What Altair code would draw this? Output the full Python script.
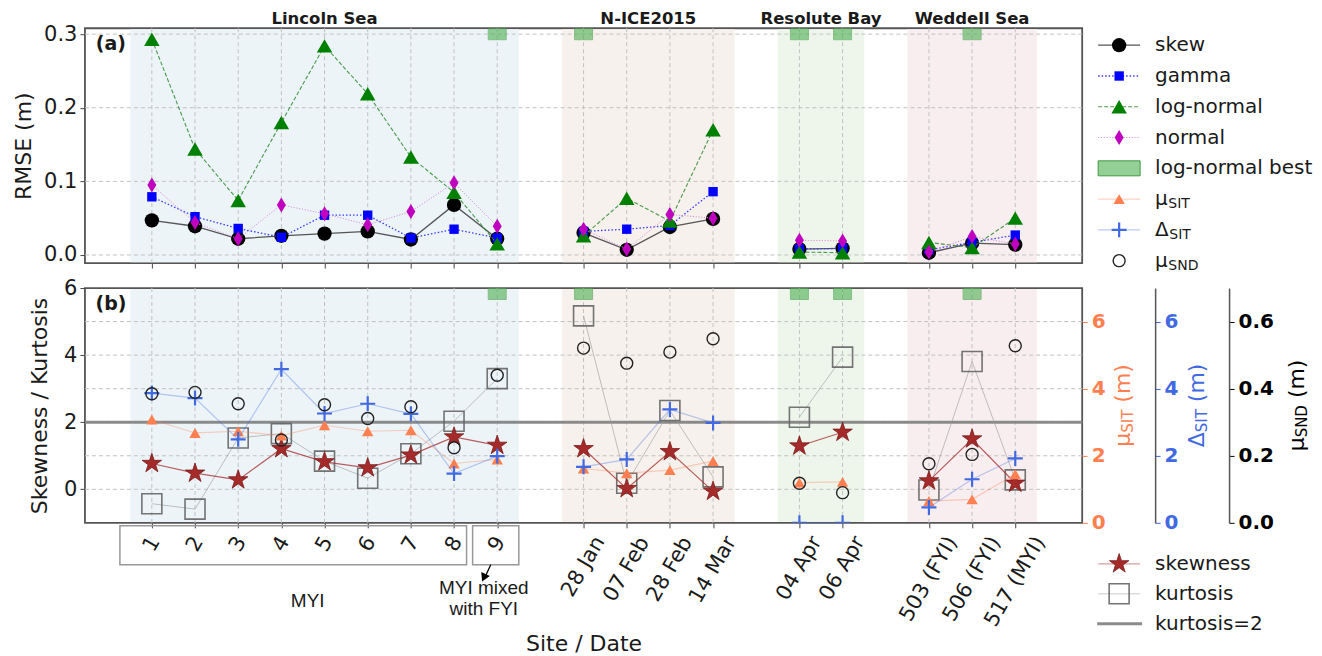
import math

import altair as alt
import pandas as pd

# ---- values --------------------------------------------------------------
site_labels = ["1", "2", "3", "4", "5", "6", "7", "8", "9",
               "28 Jan", "07 Feb", "28 Feb", "14 Mar",
               "04 Apr", "06 Apr",
               "503 (FYI)", "506 (FYI)", "517 (MYI)"]
site_pos = [0, 1, 2, 3, 4, 5, 6, 7, 8, 10, 11, 12, 13, 15, 16, 18, 19, 20]
site_region = (["Lincoln Sea"] * 9 + ["N-ICE2015"] * 4
               + ["Resolute Bay"] * 2 + ["Weddell Sea"] * 3)

regions = ["Lincoln Sea", "N-ICE2015", "Resolute Bay", "Weddell Sea"]
region_start = [-0.5, 9.5, 14.5, 17.5]
region_end = [8.5, 13.5, 16.5, 20.5]

# (a) RMSE of the fitted distributions (m)
rmse_skew = [0.047, 0.039, 0.022, 0.026, 0.029, 0.032, 0.021, 0.068, 0.022,
             0.030, 0.007, 0.038, 0.049, 0.008, 0.009, 0.003, 0.016, 0.014]
rmse_gamma = [0.079, 0.052, 0.036, 0.024, 0.054, 0.054, 0.023, 0.035, 0.023,
              0.032, 0.035, 0.040, 0.086, 0.008, 0.009, 0.007, 0.017, 0.027]
rmse_lognormal = [0.293, 0.144, 0.074, 0.180, 0.284, 0.219, 0.133, 0.085, 0.015,
                  0.026, 0.077, 0.046, 0.170, 0.004, 0.003, 0.017, 0.010, 0.050]
rmse_normal = [0.095, 0.044, 0.022, 0.068, 0.056, 0.041, 0.059, 0.098, 0.039,
               0.035, 0.008, 0.055, 0.050, 0.020, 0.019, 0.004, 0.025, 0.015]
lognormal_best = ["9", "28 Jan", "04 Apr", "06 Apr", "506 (FYI)"]

# (b) skewness / kurtosis and site means
skewness = [0.77, 0.48, 0.28, 1.21, 0.82, 0.64, 1.02, 1.56, 1.31,
            1.21, 0.02, 1.12, -0.06, 1.29, 1.70, 0.25, 1.50, 0.18]
kurtosis = [-0.43, -0.59, 1.53, 1.66, 0.84, 0.33, 1.06, 2.03, 3.30,
            5.17, 0.18, 2.35, 0.37, 2.15, 3.94, -0.02, 3.81, 0.28]
kurtosis_ref = [2.0]
mu_sit = [3.08, 2.68, 2.73, 2.60, 2.91, 2.73, 2.76, 1.77, 1.89,
          1.62, 1.48, 1.57, 1.84, 1.20, 1.22, 0.65, 0.70, 1.45]
delta_sit = [3.87, 3.72, 2.49, 4.58, 3.26, 3.55, 3.25, 1.47, 1.99,
             1.67, 1.89, 3.38, 2.98, 0.00, 0.00, 0.46, 1.30, 1.92]
mu_snd = [0.385, 0.389, 0.355, 0.247, 0.352, 0.311, 0.346, 0.224, 0.440,
          0.521, 0.476, 0.509, 0.549, 0.118, 0.090, 0.176, 0.204, 0.528]

rmse_ticks = [0.0, 0.1, 0.2, 0.3]
shape_ticks = [0, 2, 4, 6]
shape_grid = [0, 1, 2, 3, 4, 5]
sit_ticks = [0, 2, 4, 6]
snd_ticks = [0.0, 0.2, 0.4, 0.6]

# ---- styling ---------------------------------------------------------------
FONT = "DejaVu Sans"
INK = "#1a1a1a"
GRID = "#c2c2c2"
FRAME = "#555555"
CORAL = "#ff7f50"
ROYAL = "#4169e1"
BROWN = "#a52a2a"
SPAN_FILL = {"Lincoln Sea": "#ecf4f8", "N-ICE2015": "#f6f1ec",
             "Resolute Bay": "#eef6ec", "Weddell Sea": "#f8eef0"}
W, H = 998, 235

# DejaVu Sans advance widths (em), used to lay out rotated/subscripted text
CHAR_W = {" ": 0.318, "(": 0.390, ")": 0.390, "A": 0.684, "D": 0.770,
          "F": 0.575, "I": 0.295, "J": 0.295, "M": 0.863, "N": 0.748,
          "S": 0.635, "T": 0.611, "Y": 0.611, "a": 0.613, "b": 0.635,
          "e": 0.615, "m": 0.974, "n": 0.634, "p": 0.635, "r": 0.411,
          "μ": 0.636, "Δ": 0.684}
for d in "0123456789":
    CHAR_W[d] = 0.636


def text_width(s, size):
    return sum(CHAR_W[c] for c in s) * size


def star_path(inner=0.382):
    pts = []
    for k in range(10):
        r = 1.0 if k % 2 == 0 else inner
        a = math.radians(-90 + 36 * k)
        pts.append(f"{r * math.cos(a):.3f},{r * math.sin(a):.3f}")
    return "M" + "L".join(pts) + "Z"


STAR = star_path()
THIN_DIAMOND = "M0,-1L0.6,0L0,1L-0.6,0Z"
PLUS = "M-1,0L1,0M0,-1L0,1"


def label_drop(s, size=21):
    # matplotlib centres a 60-degree label under its tick with the bbox top fixed
    return 245 + (text_width(s, size) * math.sin(math.radians(60)) + 11) / 2


df = pd.DataFrame({
    "site": site_labels, "pos": site_pos, "region": site_region,
    "skew": rmse_skew, "gamma": rmse_gamma, "lognormal": rmse_lognormal,
    "normal": rmse_normal, "skewness": skewness, "kurtosis": kurtosis,
    "mu_sit": mu_sit, "delta_sit": delta_sit, "mu_snd": mu_snd,
})
df["ly"] = [label_drop(s) for s in site_labels]
best_df = df[df["site"].isin(lognormal_best)]
span_df = pd.DataFrame({"region": regions, "start": region_start, "end": region_end})
span_df["mid"] = (span_df["start"] + span_df["end"]) / 2
span_df["fill"] = span_df["region"].map(SPAN_FILL)
one = pd.DataFrame({"k": [0]})

xs = alt.Scale(domain=[-1.55, 21.55], nice=False, zero=False)
ya = alt.Scale(domain=[-0.011, 0.308], nice=False, zero=False)
yb = alt.Scale(domain=[-1, 6], nice=False, zero=False)
ysit = alt.Scale(domain=[0, 7], nice=False, zero=False)
ysnd = alt.Scale(domain=[0, 0.7], nice=False, zero=False)

axis_common = dict(grid=False, domain=False, tickSize=5, tickColor="#444",
                   labelFontSize=21, labelColor=INK, labelPadding=3,
                   titleFontSize=22, titleFontWeight="normal", titleColor=INK)
right_axis = dict(orient="right", grid=False, tickSize=5, labelFontSize=20,
                  labelFontWeight="bold", labelPadding=4, title=None)

# every layer sharing a scale gets the same axis object, so the merge keeps it
AX_A = alt.Axis(values=site_pos, labels=False, title=None, **axis_common)
AX_B = alt.Axis(values=site_pos, labels=False, title="Site / Date", titleY=121,
                titleBaseline="middle", **axis_common)
AY_A = alt.Axis(values=rmse_ticks, format=".1f", title="RMSE (m)",
                titleX=-61, titleBaseline="middle", **axis_common)
AY_B = alt.Axis(values=shape_ticks, format="d", title="Skewness / Kurtosis",
                titleX=-45, titleBaseline="middle", **axis_common)
AY_SIT = alt.Axis(values=sit_ticks, format="d", offset=0, domain=False,
                  labelColor=CORAL, tickColor=CORAL, **right_axis)
AY_DSIT = alt.Axis(values=sit_ticks, format="d", offset=73, domain=True,
                   domainColor=FRAME, domainWidth=1.5,
                   labelColor=ROYAL, tickColor=ROYAL, **right_axis)
AY_SND = alt.Axis(values=snd_ticks, format=".1f", offset=147, domain=True,
                  domainColor=FRAME, domainWidth=1.5,
                  labelColor="black", tickColor="black", **right_axis)


def xpos(field, axis):
    return alt.X(f"{field}:Q", scale=xs, axis=axis)


def yq(field, scale, axis):
    return alt.Y(f"{field}:Q", scale=scale, axis=axis)


def spans(ax):
    return alt.Chart(span_df).mark_rect().encode(
        x=xpos("start", ax), x2=alt.X2("end"),
        y=alt.value(0.9), y2=alt.value(H - 0.9),
        color=alt.Color("fill:N", scale=None),
    )


def vgrid(ax):
    return alt.Chart(df).mark_rule(color=GRID, strokeDash=[4, 3], strokeWidth=1).encode(
        x=xpos("pos", ax))


def hgrid(values, scale, ay):
    return alt.Chart(pd.DataFrame({"v": values})).mark_rule(
        color=GRID, strokeDash=[4, 3], strokeWidth=1).encode(y=yq("v", scale, ay))


def series_line(field, scale, ax, ay, **style):
    return alt.Chart(df).mark_line(**style).encode(
        x=xpos("pos", ax), y=yq(field, scale, ay), detail="region:N")


def series_points(field, scale, ax, ay, data=None, **style):
    style.setdefault("opacity", 1)
    return alt.Chart(df if data is None else data).mark_point(**style).encode(
        x=xpos("pos", ax), y=yq(field, scale, ay))


def best_marks(ax):
    return alt.Chart(best_df).mark_point(
        shape="square", filled=True, color="#4caf50", stroke="#3d9a40",
        strokeWidth=1, size=324, opacity=0.6, clip=True,
    ).encode(x=xpos("pos", ax), y=alt.value(2.5))


def text_at(px, py, text, size, color=INK, align="left", **kw):
    return alt.Chart(one).mark_text(
        text=text, fontSize=size, color=color, align=align, baseline="middle", **kw
    ).encode(x=alt.value(px), y=alt.value(py))


def leg_rule(py, x1=1014, x2=1056, **style):
    return alt.Chart(one).mark_rule(**style).encode(
        x=alt.value(x1), x2=alt.value(x2), y=alt.value(py))


def leg_mark(py, **style):
    style.setdefault("opacity", 1)
    return alt.Chart(one).mark_point(**style).encode(x=alt.value(1035), y=alt.value(py))


def leg_label(py, main, sub=None, size=20):
    parts = [text_at(1071, py, main, size)]
    if sub:
        parts.append(text_at(1071 + text_width(main, size) + 0.5, py + 5, sub, 14))
    return parts


def rot_title(cx, cy, main, sub, color):
    m_w, s_w = text_width(main, 22), text_width(sub, 15)
    u_w = text_width(" (m)", 22)
    y0 = cy + (m_w + s_w + u_w) / 2
    return [
        text_at(cx, y0, main, 22, color, angle=270),
        text_at(cx + 5, y0 - m_w, sub, 15, color, angle=270),
        text_at(cx, y0 - m_w - s_w - text_width(" ", 22), "(m)", 22, color, angle=270),
    ]


# ---- panel (a) -------------------------------------------------------------
rows_a = [17 + 30.8 * k for k in range(8)]
panel_a = alt.layer(
    spans(AX_A),
    hgrid(rmse_ticks, ya, AY_A),
    vgrid(AX_A),
    series_line("skew", ya, AX_A, AY_A, color="#555", strokeWidth=1.3),
    series_points("skew", ya, AX_A, AY_A, shape="circle", filled=True, color="black", size=205),
    series_line("gamma", ya, AX_A, AY_A, color="#3a3aff", strokeWidth=1.3, strokeDash=[1.5, 2]),
    series_points("gamma", ya, AX_A, AY_A, shape="square", filled=True, color="#0000ff", size=88),
    series_line("lognormal", ya, AX_A, AY_A, color="#2e8b2e", strokeWidth=1.1,
                strokeDash=[4, 2], opacity=0.85),
    series_points("lognormal", ya, AX_A, AY_A, shape="triangle-up", filled=True,
                  color="#008000", size=240),
    series_line("normal", ya, AX_A, AY_A, color="#d890d8", strokeWidth=1, strokeDash=[1.2, 1.6]),
    series_points("normal", ya, AX_A, AY_A, shape=THIN_DIAMOND, filled=True,
                  color="#bf00bf", size=225),
    best_marks(AX_A),
    text_at(26, 16, "(a)", 19, align="center", fontWeight="bold"),
    alt.Chart(span_df).mark_text(fontSize=16.5, fontWeight="bold", color=INK,
                                 baseline="middle").encode(
        x=xpos("mid", AX_A), y=alt.value(-9), text="region:N"),
    # legend
    leg_rule(rows_a[0], color="#555", strokeWidth=1.3),
    leg_mark(rows_a[0], shape="circle", filled=True, color="black", size=205),
    leg_rule(rows_a[1], color="#3a3aff", strokeWidth=1.3, strokeDash=[1.5, 2]),
    leg_mark(rows_a[1], shape="square", filled=True, color="#0000ff", size=88),
    leg_rule(rows_a[2], color="#2e8b2e", strokeWidth=1.1, strokeDash=[4, 2], opacity=0.85),
    leg_mark(rows_a[2], shape="triangle-up", filled=True, color="#008000", size=240),
    leg_rule(rows_a[3], color="#d890d8", strokeWidth=1, strokeDash=[1.2, 1.6]),
    leg_mark(rows_a[3], shape=THIN_DIAMOND, filled=True, color="#bf00bf", size=225),
    alt.Chart(one).mark_rect(fill="#4caf50", fillOpacity=0.6, stroke="#3d9a40", strokeWidth=1).encode(
        x=alt.value(1014), x2=alt.value(1056),
        y=alt.value(rows_a[4] - 7.5), y2=alt.value(rows_a[4] + 7.5)),
    leg_rule(rows_a[5], color=CORAL, strokeWidth=1.2, opacity=0.35),
    leg_mark(rows_a[5], shape="triangle-up", filled=True, color=CORAL, size=130),
    leg_rule(rows_a[6], color=ROYAL, strokeWidth=1.2, opacity=0.35),
    leg_mark(rows_a[6], shape=PLUS, filled=False, color=ROYAL, strokeWidth=2.2, size=225),
    leg_mark(rows_a[7], shape="circle", filled=False, color="#222", strokeWidth=1.4, size=144),
    *leg_label(rows_a[0], "skew"),
    *leg_label(rows_a[1], "gamma"),
    *leg_label(rows_a[2], "log-normal"),
    *leg_label(rows_a[3], "normal"),
    *leg_label(rows_a[4], "log-normal best"),
    *leg_label(rows_a[5], "μ", "SIT"),
    *leg_label(rows_a[6], "Δ", "SIT"),
    *leg_label(rows_a[7], "μ", "SND"),
).properties(width=W, height=H)

# ---- panel (b) -------------------------------------------------------------
rows_b = [276, 306, 336]
left_b = alt.layer(
    spans(AX_B),
    hgrid(shape_grid, yb, AY_B),
    vgrid(AX_B),
    alt.Chart(pd.DataFrame({"v": kurtosis_ref})).mark_rule(
        color="#7f7f7f", strokeWidth=3, opacity=0.9).encode(y=yq("v", yb, AY_B)),
    series_line("kurtosis", yb, AX_B, AY_B, color="#999", strokeWidth=1, opacity=0.6),
    series_points("kurtosis", yb, AX_B, AY_B, shape="square", filled=False, color="#666",
                  strokeWidth=1.6, size=400, opacity=0.9),
    series_line("skewness", yb, AX_B, AY_B, color=BROWN, strokeWidth=1.2, opacity=0.75),
    series_points("skewness", yb, AX_B, AY_B, shape=STAR, filled=True, color=BROWN,
                  stroke="#7a1c1c", strokeWidth=0.8, size=420),
    best_marks(AX_B),
    text_at(26, 16, "(b)", 19, align="center", fontWeight="bold"),
    # tick labels, rotated like the original
    alt.Chart(df).mark_text(angle=300, align="center", baseline="middle",
                            fontSize=21, color=INK).encode(
        x=xpos("pos", AX_B), y=alt.Y("ly:Q", scale=None), text="site:N"),
    # MYI boxes and notes
    alt.Chart(pd.DataFrame({"x0": [-0.74, 7.43], "x1": [7.29, 8.50]})).mark_rect(
        fillOpacity=0, stroke="#999", strokeWidth=1.5).encode(
        x=xpos("x0", AX_B), x2=alt.X2("x1"), y=alt.value(238), y2=alt.value(277)),
    alt.Chart(pd.DataFrame({"a0": [7.85], "a1": [7.71]})).mark_rule(
        color="black", strokeWidth=1.3).encode(
        x=xpos("a0", AX_B), x2=alt.X2("a1"), y=alt.value(277), y2=alt.value(290)),
    alt.Chart(pd.DataFrame({"a1": [7.69]})).mark_point(
        shape="triangle-down", filled=True, color="black", size=90, angle=25, opacity=1).encode(
        x=xpos("a1", AX_B), y=alt.value(290)),
    alt.Chart(pd.DataFrame({"tx": [3.61, 7.69, 7.69], "ty": [313, 300, 321],
                            "t": ["MYI", "MYI mixed", "with FYI"]})).mark_text(
        font="Liberation Sans", fontSize=19, color=INK, baseline="middle").encode(
        x=xpos("tx", AX_B), y=alt.Y("ty:Q", scale=None), text="t:N"),
    # legend for (b)
    leg_rule(rows_b[0], color=BROWN, strokeWidth=1.2, opacity=0.45),
    leg_mark(rows_b[0], shape=STAR, filled=True, color=BROWN, stroke="#7a1c1c",
             strokeWidth=0.8, size=420),
    leg_rule(rows_b[1], color="#999", strokeWidth=1, opacity=0.5),
    leg_mark(rows_b[1], shape="square", filled=False, color="#666", strokeWidth=1.6,
             size=400, opacity=0.9),
    leg_rule(rows_b[2], x1=1013, x2=1058, color="#7f7f7f", strokeWidth=3, opacity=0.9),
    *leg_label(rows_b[0], "skewness"),
    *leg_label(rows_b[1], "kurtosis"),
    *leg_label(rows_b[2], "kurtosis=2"),
    # titles of the right-hand axes
    *rot_title(1039, 117.5, "μ", "SIT", CORAL),
    *rot_title(1113, 117.5, "Δ", "SIT", ROYAL),
    *rot_title(1213, 117.5, "μ", "SND", "black"),
)

sit_b = alt.layer(
    series_line("mu_sit", ysit, AX_B, AY_SIT, color=CORAL, strokeWidth=1.2, opacity=0.35),
    series_points("mu_sit", ysit, AX_B, AY_SIT, shape="triangle-up", filled=True,
                  color=CORAL, size=130),
)
dsit_b = alt.layer(
    series_line("delta_sit", ysit, AX_B, AY_DSIT, color=ROYAL, strokeWidth=1.2, opacity=0.35),
    series_points("delta_sit", ysit, AX_B, AY_DSIT, shape=PLUS, filled=False, color=ROYAL,
                  strokeWidth=2.2, size=225, clip=True),
)
snd_b = series_points("mu_snd", ysnd, AX_B, AY_SND, shape="circle", filled=False,
                      color="#222", strokeWidth=1.4, size=144)

panel_b = alt.layer(left_b, sit_b, dsit_b, snd_b).resolve_scale(y="independent").properties(
    width=W, height=H)

chart = alt.vconcat(panel_a, panel_b, spacing=25, bounds="flush").properties(
    padding={"left": 4, "top": 2, "right": 0, "bottom": 0}
).configure(font=FONT).configure_view(stroke=FRAME, strokeWidth=1.8)

chart.save("out.html", embed_options={"renderer": "svg", "actions": False})
